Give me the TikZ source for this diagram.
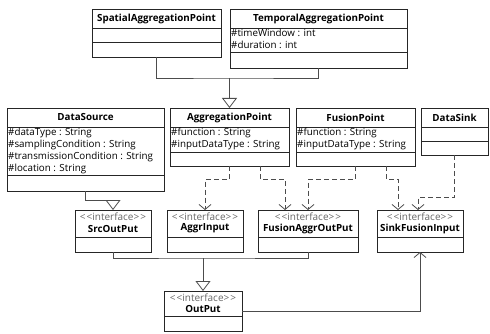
\documentclass[tikz,border=0pt]{standalone}
\usepackage{fontspec}
\setmainfont{Open Sans}
\usepackage{tikz}
\usetikzlibrary{arrows.meta,positioning}

\begin{document}
\begin{tikzpicture}[x=1pt, y=-1pt,
        font=\fontsize{10}{12}\selectfont,
        cls/.style={rectangle, draw=black!85, line width=0.8pt, anchor=north west, inner sep=0pt, outer sep=0pt},
        clsname/.style={font=\fontsize{9.8}{12}\selectfont\bfseries, inner sep=0pt},
        attrs/.style={anchor=north west, align=left, inner sep=1pt, font=\fontsize{9.8}{11.8}\selectfont},
        stereo/.style={text=black!60, inner sep=0pt},
        divider/.style={draw=black!85, line width=0.8pt},
        conn/.style={draw=black!70, line width=0.8pt},
        gen/.style={conn, -{Triangle[open, length=10pt, width=15pt]}},
        dep/.style={conn, dash pattern=on 5pt off 3pt, -{Straight Barb[length=5pt, width=12pt]}},
        assoc/.style={conn, -{Straight Barb[length=5pt, width=12pt]}}
    ]
    \useasboundingbox (0,0) rectangle (490,334);

    % Top row: the two aggregation points
    \node[cls, minimum width=129, minimum height=48] (spatial) at (92,9) {};
    \node[clsname] at ([yshift=-9.5pt]spatial.north) {SpatialAggregationPoint};
    \draw[divider] ([yshift=-19pt]spatial.north west) -- ([yshift=-19pt]spatial.north east);
    \draw[divider] ([yshift=-33pt]spatial.north west) -- ([yshift=-33pt]spatial.north east);

    \node[cls, minimum width=177, minimum height=59] (temporal) at (230,9) {};
    \node[clsname] at ([yshift=-9.5pt]temporal.north) {TemporalAggregationPoint};
    \draw[divider] ([yshift=-19pt]temporal.north west) -- ([yshift=-19pt]temporal.north east);
    \node[attrs] at ([yshift=-19pt]temporal.north west) {\#timeWindow : int\\\#duration : int};
    \draw[divider] ([yshift=-43pt]temporal.north west) -- ([yshift=-43pt]temporal.north east);

    % Middle row: sources, points and sink
    \node[cls, minimum width=157, minimum height=83] (datasource) at (7,108) {};
    \node[clsname] at ([yshift=-9.5pt]datasource.north) {DataSource};
    \draw[divider] ([yshift=-19pt]datasource.north west) -- ([yshift=-19pt]datasource.north east);
    \node[attrs] at ([yshift=-19pt]datasource.north west) {\#dataType : String\\\#samplingCondition : String\\\#transmissionCondition : String\\\#location : String};
    \draw[divider] ([yshift=-67pt]datasource.north west) -- ([yshift=-67pt]datasource.north east);

    \node[cls, minimum width=119, minimum height=58] (aggregation) at (170,108) {};
    \node[clsname] at ([yshift=-9.5pt]aggregation.north) {AggregationPoint};
    \draw[divider] ([yshift=-19pt]aggregation.north west) -- ([yshift=-19pt]aggregation.north east);
    \node[attrs] at ([yshift=-19pt]aggregation.north west) {\#function : String\\\#inputDataType : String};
    \draw[divider] ([yshift=-44pt]aggregation.north west) -- ([yshift=-44pt]aggregation.north east);

    \node[cls, minimum width=119, minimum height=58] (fusion) at (296,108) {};
    \node[clsname] at ([yshift=-9.5pt]fusion.north) {FusionPoint};
    \draw[divider] ([yshift=-19pt]fusion.north west) -- ([yshift=-19pt]fusion.north east);
    \node[attrs] at ([yshift=-19pt]fusion.north west) {\#function : String\\\#inputDataType : String};
    \draw[divider] ([yshift=-44pt]fusion.north west) -- ([yshift=-44pt]fusion.north east);

    \node[cls, minimum width=67, minimum height=47] (datasink) at (421,108) {};
    \node[clsname] at ([yshift=-9.5pt]datasink.north) {DataSink};
    \draw[divider] ([yshift=-19pt]datasink.north west) -- ([yshift=-19pt]datasink.north east);
    \draw[divider] ([yshift=-33pt]datasink.north west) -- ([yshift=-33pt]datasink.north east);

    % Interfaces
    \node[cls, minimum width=76, minimum height=42] (srcout) at (75,210) {};
    \node[stereo] at ([yshift=-7pt]srcout.north) {<\kern1pt<interface>\kern1pt>};
    \node[clsname] at ([yshift=-18.5pt]srcout.north) {SrcOutPut};
    \draw[divider] ([yshift=-27pt]srcout.north west) -- ([yshift=-27pt]srcout.north east);

    \node[cls, minimum width=76, minimum height=42] (aggrinput) at (167,210) {};
    \node[stereo] at ([yshift=-7pt]aggrinput.north) {<\kern1pt<interface>\kern1pt>};
    \node[clsname] at ([yshift=-18.5pt]aggrinput.north) {AggrInput};
    \draw[divider] ([yshift=-27pt]aggrinput.north west) -- ([yshift=-27pt]aggrinput.north east);

    \node[cls, minimum width=100, minimum height=42] (fusionaggr) at (258,210) {};
    \node[stereo] at ([yshift=-7pt]fusionaggr.north) {<\kern1pt<interface>\kern1pt>};
    \node[clsname] at ([yshift=-18.5pt]fusionaggr.north) {FusionAggrOutPut};
    \draw[divider] ([yshift=-27pt]fusionaggr.north west) -- ([yshift=-27pt]fusionaggr.north east);

    \node[cls, minimum width=86, minimum height=42] (sinkfusion) at (377,210) {};
    \node[stereo] at ([yshift=-7pt]sinkfusion.north) {<\kern1pt<interface>\kern1pt>};
    \node[clsname] at ([yshift=-18.5pt]sinkfusion.north) {SinkFusionInput};
    \draw[divider] ([yshift=-27pt]sinkfusion.north west) -- ([yshift=-27pt]sinkfusion.north east);

    \node[cls, minimum width=78, minimum height=40] (output) at (164,291) {};
    \node[stereo] at ([yshift=-6.5pt]output.north) {<\kern1pt<interface>\kern1pt>};
    \node[clsname] at ([yshift=-17.5pt]output.north) {OutPut};
    \draw[divider] ([yshift=-25pt]output.north west) -- ([yshift=-25pt]output.north east);

    % Generalizations
    \coordinate (aggjoin) at (229.5,78);
    \draw[conn] (spatial.south) |- (aggjoin) -| (temporal.south);
    \draw[gen] (aggjoin) -- (aggregation.north);
    \draw[gen] (datasource.south) -- ++(0,9) -| (srcout.north);

    % Dependencies (dashed)
    \draw[dep] (aggregation.south) -- ++(0,13) -| (aggrinput.north);
    \draw[dep] ([xshift=-29pt]aggregation.south east) -- ++(0,13) -| ([xshift=-23pt]fusionaggr.north);
    \draw[dep] (fusion.south) -- ++(0,13) -| (fusionaggr.north);
    \draw[dep] ([xshift=-29pt]fusion.south east) -- ++(0,13) -| ([xshift=-22pt]sinkfusion.north);
    \draw[dep] (datasink.south) -- ++(0,42) -| ([xshift=-2pt]sinkfusion.north);

    % Interfaces to OutPut
    \coordinate (outjoin) at (203,258);
    \draw[conn] (srcout.south) |- (outjoin) -| (fusionaggr.south);
    \draw[gen] (outjoin) -- (output.north);
    \draw[assoc] (output.east) -| (sinkfusion.south);

\end{tikzpicture}
\end{document}
